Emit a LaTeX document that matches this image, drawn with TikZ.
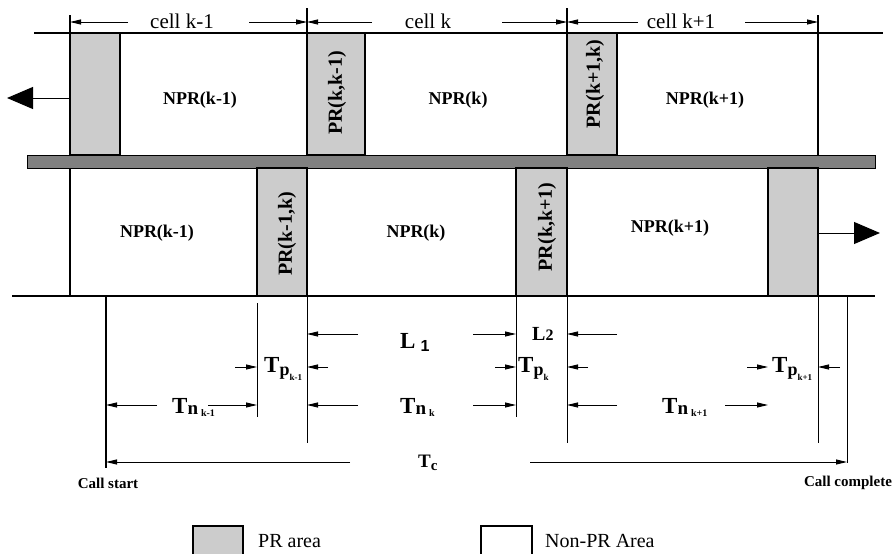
\documentclass[tikz,border=0pt]{standalone}
\usepackage{fontspec}
\setmainfont{Liberation Serif}
\newfontfamily\lsans{Liberation Sans}
\usetikzlibrary{arrows.meta}
\definecolor{prgray}{HTML}{CCCCCC}
\definecolor{bargray}{HTML}{808080}
\newcommand\mytn[1]{T\raisebox{-1.5pt}{\fontsize{19}{19}\selectfont n}\hspace{3pt}\raisebox{-3pt}{\fontsize{10}{10}\selectfont #1}}
\newcommand\mytp[1]{T\raisebox{-3pt}{\fontsize{18}{18}\selectfont p\raisebox{-5pt}{\fontsize{9}{9}\selectfont #1}}}
\begin{document}
\begin{tikzpicture}[x=1pt,y=-1pt,
  prbox/.style={draw=black,line width=1.2pt,fill=prgray},
  ln/.style={line width=1.1pt},
  thin/.style={line width=0.9pt},
  dimarrow/.style={line width=0.9pt,-{Triangle[length=11pt,width=5pt]}},
  bigarrow/.style={line width=1pt,-{Triangle[length=26pt,width=22pt]}},
  nprlab/.style={font=\fontsize{18}{18}\selectfont\bfseries},
  prlab/.style={font=\fontsize{20}{20}\selectfont\bfseries,rotate=90},
  celllab/.style={font=\fontsize{21}{21}\selectfont},
  biglab/.style={font=\fontsize{23}{23}\selectfont\bfseries,anchor=base west,inner sep=0pt},
  calllab/.style={font=\fontsize{15}{15}\selectfont\bfseries},
  leglab/.style={font=\fontsize{20}{20}\selectfont,anchor=west,inner sep=0pt}]
\useasboundingbox (0,0) rectangle (895,554);
\clip (0,0) rectangle (895,554);
% top row
\draw[ln] (34,33) -- (883,33);
\draw[prbox] (70,33) rectangle (120,155);
\draw[prbox] (307,33) rectangle (365,155);
\draw[prbox] (567,33) rectangle (617,155);
\draw[ln] (70,15) -- (70,155);
\draw[ln] (307,8) -- (307,155);
\draw[ln] (567,8) -- (567,155);
\draw[ln] (818,15) -- (818,155);
% bar
\draw[line width=1pt,fill=bargray] (27,155) rectangle (875,168);
% bottom row
\draw[prbox] (257,168) rectangle (307,296);
\draw[prbox] (516,168) rectangle (567,296);
\draw[prbox] (768,168) rectangle (818,296);
\draw[ln] (70,168) -- (70,296);
\draw[ln] (12,296) -- (875,296);
% big arrows
\draw[bigarrow] (70,98) -- (7,98);
\draw[bigarrow] (818,233) -- (880,233);
% cell labels
\node[celllab] (c1) at (182,21) {cell k-1};
\node[celllab] (c2) at (428,21) {cell k};
\node[celllab] (c3) at (681,21) {cell k+1};
\draw[dimarrow] (128,22) -- (70,22);
\draw[dimarrow] (249,22) -- (307,22);
\draw[dimarrow] (372,22) -- (307,22);
\draw[dimarrow] (502,22) -- (567,22);
\draw[dimarrow] (638,22) -- (567,22);
\draw[dimarrow] (745,22) -- (818,22);
% NPR labels
\node[nprlab] (n1) at (200,100) {NPR(k-1)};
\node[nprlab] (n2) at (458,100) {NPR(k)};
\node[nprlab] (n3) at (705,100) {NPR(k+1)};
\node[nprlab] (n4) at (157,233) {NPR(k-1)};
\node[nprlab] (n5) at (416,233) {NPR(k)};
\node[nprlab] (n6) at (670,228) {NPR(k+1)};
% PR labels
\node[prlab] (p1) at (337,93) {PR(k,k-1)};
\node[prlab] (p2) at (595,84) {PR(k+1,k)};
\node[prlab] (p3) at (287,234) {PR(k-1,k)};
\node[prlab] (p4) at (547,227) {PR(k,k+1)};
% dimension lines
\draw[line width=1.5pt] (106,296) -- (106,468);
\draw[thin] (257,303) -- (257,417);
\draw[thin] (307,296) -- (307,443);
\draw[thin] (516,296) -- (516,417);
\draw[thin] (567,296) -- (567,443);
\draw[thin] (818,296) -- (818,443);
\draw[thin] (847,296) -- (847,463);
% L row
\draw[dimarrow] (358,334) -- (307,334);
\draw[dimarrow] (473,334) -- (516,334);
\draw[dimarrow] (617,334) -- (567,334);
\node[biglab] (l1) at (400,348) {L\hspace{5pt}\raisebox{-3pt}{\lsans\fontsize{16}{16}\selectfont 1}};
\node[biglab,font=\fontsize{20}{20}\selectfont\bfseries] (l2) at (532,340) {L{\fontsize{16}{16}\selectfont 2}};
% Tp row
\draw[dimarrow] (235,367) -- (257,367);
\draw[dimarrow] (328,367) -- (307,367);
\draw[dimarrow] (495,367) -- (516,367);
\draw[dimarrow] (588,367) -- (567,367);
\draw[dimarrow] (747,367) -- (768,367);
\draw[dimarrow] (840,367) -- (818,367);
\node[biglab] (tp1) at (264,372) {\mytp{k-1}};
\node[biglab] (tp2) at (518,372) {\mytp{k}};
\node[biglab] (tp3) at (772,372) {\mytp{k+1}};
% Tn row
\draw[dimarrow] (157,405) -- (106,405);
\draw[dimarrow] (208,405) -- (257,405);
\draw[dimarrow] (358,405) -- (307,405);
\draw[dimarrow] (473,405) -- (516,405);
\draw[dimarrow] (617,405) -- (567,405);
\draw[dimarrow] (725,405) -- (768,405);
\node[biglab] (tn1) at (172,413) {\mytn{k-1}};
\node[biglab] (tn2) at (400,413) {\mytn{k}};
\node[biglab] (tn3) at (662,413) {\mytn{k+1}};
% Tc row
\draw[dimarrow] (350,462) -- (106,462);
\draw[dimarrow] (530,462) -- (847,462);
\node[biglab,font=\fontsize{19}{19}\selectfont\bfseries] (tc) at (418,467) {T\raisebox{-3pt}{\fontsize{15}{15}\selectfont c}};
\node[calllab] (cs) at (108,483) {Call start};
\node[calllab] (cc) at (848,483) {Call complete};
% legend
\draw[prbox] (193,526) rectangle (243,560);
\draw[line width=1.2pt,fill=white] (481,526) rectangle (532,560);
\node[leglab] (lg1) at (258,541) {PR area};
\node[leglab] (lg2) at (545,541) {Non-PR Area};
\end{tikzpicture}
\end{document}
